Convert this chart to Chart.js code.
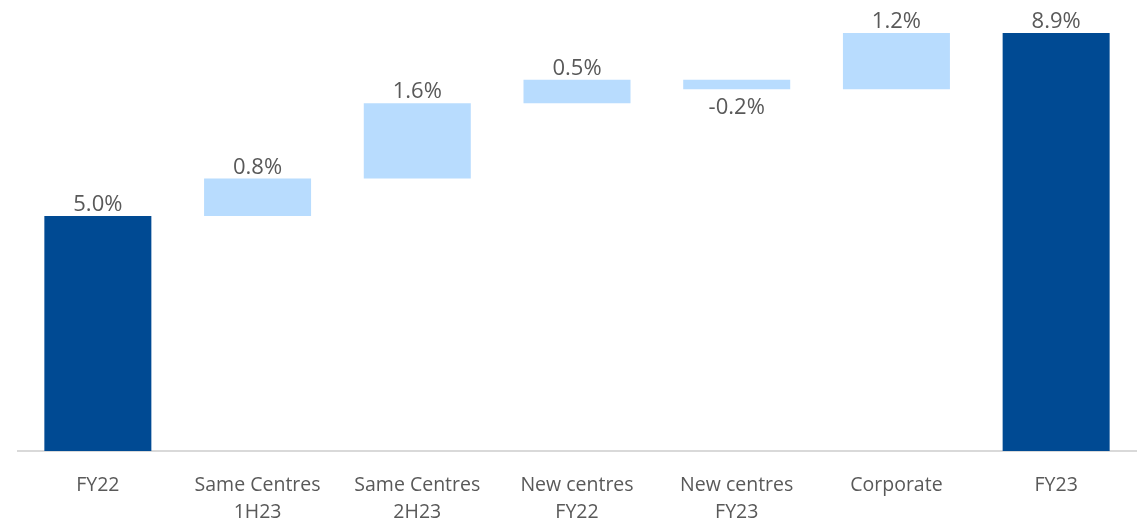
<!DOCTYPE html>
<html>
<head>
<meta charset="utf-8">
<script src="https://cdn.jsdelivr.net/npm/chart.js@4.4.0/dist/chart.umd.min.js"></script>
<style>
  html, body { margin: 0; padding: 0; background: #ffffff; }
  #wrap { width: 1137px; height: 524px; position: relative; }
</style>
</head>
<body>
<div id="wrap"><canvas id="waterfallChart"></canvas></div>
<script>
// Waterfall: FY22 -> FY23

const categories = [
    'FY22',
    ['Same Centres', '1H23'],
    ['Same Centres', '2H23'],
    ['New centres', 'FY22'],
    ['New centres', 'FY23'],
    'Corporate',
    'FY23'
];
// change for each step, totals hold the full value
const values = [5.0, 0.8, 1.6, 0.5, -0.2, 1.2, 8.9];
const isTotal = [true, false, false, false, false, false, true];

const totalColor = '#004A93';
const stepColor = '#B8DCFE';
const labelColor = '#595959';

// floating ranges built from the steps
let running = 0;
const ranges = values.map((v, i) => {
    if (isTotal[i]) {
        running = v;
        return [0, v];
    }
    const start = running;
    running = +(running + v).toFixed(2);
    return [start, running];
});

const valueLabels = {
    id: 'valueLabels',
    afterDatasetsDraw(chart) {
        const ctx = chart.ctx;
        const meta = chart.getDatasetMeta(0);
        ctx.save();
        ctx.font = '22px "Open Sans", sans-serif';
        ctx.fillStyle = labelColor;
        ctx.textAlign = 'center';
        ctx.textBaseline = 'alphabetic';
        meta.data.forEach((bar, i) => {
            const v = values[i];
            const text = v.toFixed(1) + '%';
            const top = Math.min(bar.y, bar.base);
            const bottom = Math.max(bar.y, bar.base);
            if (v < 0) {
                ctx.fillText(text, bar.x, bottom + 25);
            } else {
                ctx.fillText(text, bar.x, top - 5);
            }
        });
        ctx.restore();
    }
};

new Chart(document.getElementById('waterfallChart'), {
    type: 'bar',
    data: {
        labels: categories,
        datasets: [{
            data: ranges,
            backgroundColor: values.map((v, i) => isTotal[i] ? totalColor : stepColor),
            borderWidth: 0,
            categoryPercentage: 1,
            barPercentage: 0.67
        }]
    },
    options: {
        responsive: true,
        maintainAspectRatio: false,
        animation: false,
        layout: {
            padding: { left: 18, right: 1, top: 0, bottom: 0 }
        },
        plugins: {
            legend: { display: false },
            tooltip: { enabled: false }
        },
        scales: {
            x: {
                grid: { display: false, drawTicks: false },
                border: { display: true, color: '#D9D9D9', width: 2 },
                ticks: {
                    color: labelColor,
                    font: { family: '"Open Sans", sans-serif', size: 19.5, lineHeight: 1.38 },
                    padding: 21,
                    maxRotation: 0,
                    autoSkip: false
                },
                afterFit(scale) {
                    scale.height = 73;
                }
            },
            y: {
                display: false,
                min: 0,
                max: 9.6
            }
        }
    },
    plugins: [valueLabels]
});
</script>
</body>
</html>
